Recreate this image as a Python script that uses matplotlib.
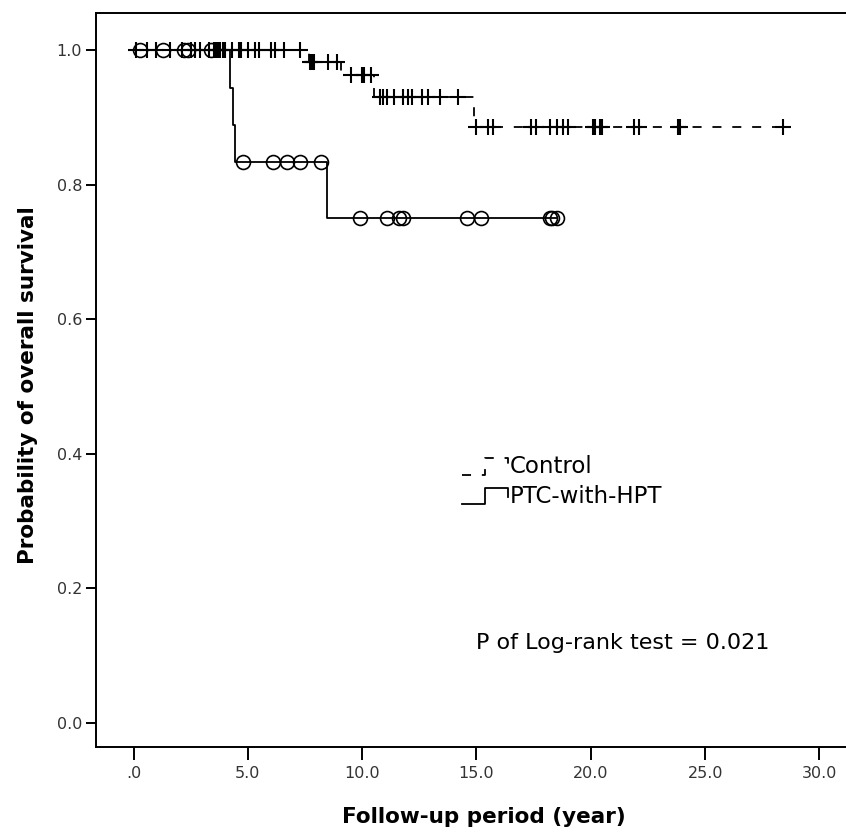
import numpy as np
import matplotlib.pyplot as plt
from matplotlib.legend_handler import HandlerBase
from matplotlib.lines import Line2D

# =====================
# data
# =====================
ctrl_step_t = [0.0, 7.66, 9.06, 10.5, 14.9]
ctrl_step_s = [1.0, 0.982, 0.963, 0.930, 0.886]
ctrl_end = 28.4
ctrl_cens = [0.1, 0.6, 1.0, 1.6, 2.1, 2.5, 2.7, 2.9, 3.3, 3.5, 3.6, 3.7, 3.8, 3.9,
             4.0, 4.3, 4.6, 4.7, 5.0, 5.3, 5.5, 6.0, 6.2, 6.6, 7.3,
             7.7, 7.8, 7.9, 8.5, 8.9,
             9.5, 10.0, 10.1, 10.4,
             10.8, 10.9, 11.1, 11.4, 11.8, 12.0, 12.2, 12.6, 12.9, 13.4, 14.2,
             15.0, 15.5, 15.7, 17.4, 17.6, 18.2, 18.5, 18.8, 19.0, 20.1, 20.2,
             20.4, 20.5, 21.9, 22.1, 23.8, 23.9, 28.4]

hpt_step_t = [0.0, 4.21, 4.33, 4.45, 8.45]
hpt_step_s = [1.0, 0.944, 0.889, 0.833, 0.75]
hpt_end = 18.5
hpt_cens = [0.3, 1.3, 2.2, 2.4, 3.4,
            4.8, 6.1, 6.7, 7.3, 8.2,
            9.9, 11.1, 11.6, 11.8, 14.6, 15.2, 18.2, 18.3, 18.5]

xticks = [0, 5, 10, 15, 20, 25, 30]
xtick_labels = [".0", "5.0", "10.0", "15.0", "20.0", "25.0", "30.0"]
yticks = [0.0, 0.2, 0.4, 0.6, 0.8, 1.0]
ytick_labels = ["0.0", "0.2", "0.4", "0.6", "0.8", "1.0"]


class StepHandler(HandlerBase):
    def __init__(self, ls):
        super().__init__()
        self.ls = ls

    def create_artists(self, legend, orig_handle, xdescent, ydescent, width, height, fontsize, trans):
        x = np.array([0, 0.5, 0.5, 1.0, 1.0]) * width - xdescent
        y = np.array([0.0, 0.0, 0.85, 0.85, 0.4]) * height - ydescent
        ln = Line2D(x, y, color="black", lw=1.3, linestyle=self.ls, transform=trans)
        return [ln]


def cens_y(t, s, c):
    idx = np.searchsorted(t, c, side="right") - 1
    return np.array(s)[idx]


fig = plt.figure(figsize=(8.46, 8.36), dpi=100)
ax = fig.add_axes([0.1135, 0.1065, 0.8865, 0.8779])

dash = (0, (5, 6))
ax.step(ctrl_step_t + [ctrl_end], ctrl_step_s + [ctrl_step_s[-1]], where="post",
        color="black", lw=1.3, linestyle=dash)
ax.plot(ctrl_cens, cens_y(ctrl_step_t, ctrl_step_s, ctrl_cens), linestyle="none",
        marker="+", markersize=11, mew=1.5, color="black")

ax.step(hpt_step_t + [hpt_end], hpt_step_s + [hpt_step_s[-1]], where="post",
        color="black", lw=1.3)
ax.plot(hpt_cens, cens_y(hpt_step_t, hpt_step_s, hpt_cens), linestyle="none",
        marker="o", markersize=10, mew=1.2, mfc="none", color="black")

ax.set_xlim(-1.64, 31.16)
ax.set_ylim(-0.036, 1.055)
ax.set_xticks(xticks)
ax.set_xticklabels(xtick_labels)
ax.set_yticks(yticks)
ax.set_yticklabels(ytick_labels)
ax.tick_params(axis="x", length=9, width=1.4, labelsize=11.5, labelcolor="#333333", pad=5)
ax.tick_params(axis="y", length=7, width=1.4, labelsize=11.5, labelcolor="#333333", pad=3)
for sp in ["left", "bottom", "top"]:
    ax.spines[sp].set_linewidth(1.4)
ax.spines["right"].set_visible(False)

ax.set_xlabel("Follow-up period (year)", fontsize=15.5, fontweight="bold")
ax.set_ylabel("Probability of overall survival", fontsize=15.5, fontweight="bold")
ax.xaxis.set_label_coords(0.517, -0.082)
ax.yaxis.set_label_coords(-0.078, 0.493)

h1 = Line2D([], [])
h2 = Line2D([], [], color="k")
ax.legend([h1, h2], ["Control", "PTC-with-HPT"],
          handler_map={h1: StepHandler(dash), h2: StepHandler("-")},
          loc="upper left", bbox_to_anchor=(462 / 846, 1 - 455 / 836),
          bbox_transform=fig.transFigure, frameon=False, fontsize=16.5,
          handlelength=2.0, handleheight=0.9, handletextpad=0.1, labelspacing=0.3,
          borderpad=0, borderaxespad=0)

ax.text(14.96, 0.118, "P of Log-rank test = 0.021", fontsize=16, color="black",
        va="center", ha="left")

fig.savefig("out.png", dpi=100)
